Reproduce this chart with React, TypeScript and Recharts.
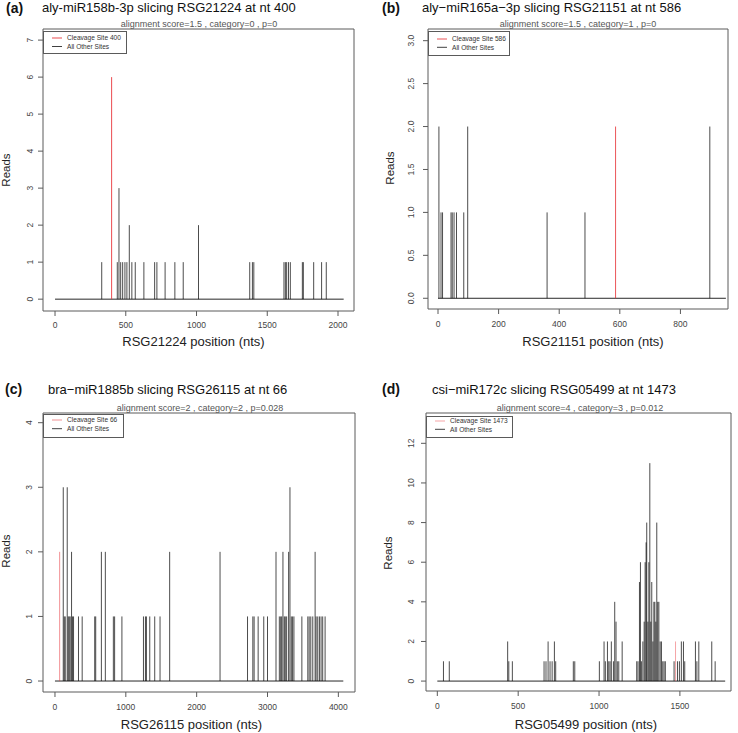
import React from 'react';
import { ComposedChart, XAxis, YAxis, ReferenceLine, ReferenceArea, Scatter } from 'recharts';

const FONT = '"Liberation Sans", Arial, Helvetica, sans-serif';

// ---------- Panel (a) ----------
const aTitle = 'aly-miR158b-3p slicing RSG21224 at nt 400';
const aSubtitle = 'alignment score=1.5 , category=0 , p=0';
const aXLabel = 'RSG21224 position (nts)';
const aLegend = ['Cleavage Site 400', 'All Other Sites'];
const aOtherPositions = [
  330, 440, 452, 464, 478, 494, 508, 525, 543, 567,
  628, 704, 720, 778, 847, 906, 1014, 1376, 1395, 1405,
  1618, 1628, 1637, 1650, 1663, 1748, 1755, 1828, 1884, 1917,
];
const aOtherReads = [
  1, 1, 3, 1, 1, 1, 1, 2, 1, 1,
  1, 1, 1, 1, 1, 1, 2, 1, 1, 1,
  1, 1, 1, 1, 1, 1, 1, 1, 1, 1,
];
const aCleavagePosition = 400;
const aCleavageReads = 6;
const aTranscriptLength = 2040;
const aXTicks = [0, 500, 1000, 1500, 2000];
const aYTicks = [0, 1, 2, 3, 4, 5, 6, 7];

// ---------- Panel (b) ----------
const bTitle = 'aly\u2212miR165a\u22123p slicing RSG21151 at nt 586';
const bSubtitle = 'alignment score=1.5 , category=1 , p=0';
const bXLabel = 'RSG21151 position (nts)';
const bLegend = ['Cleavage Site 586', 'All Other Sites'];
const bOtherPositions = [3, 10, 15, 43, 47, 53, 61, 85, 98, 360, 485, 897];
const bOtherReads = [2, 1, 1, 1, 1, 1, 1, 1, 2, 1, 1, 2];
const bCleavagePosition = 586;
const bCleavageReads = 2;
const bTranscriptLength = 950;
const bXTicks = [0, 200, 400, 600, 800];
const bYTicks = [0, 0.5, 1, 1.5, 2, 2.5, 3];

// ---------- Panel (c) ----------
const cTitle = 'bra\u2212miR1885b slicing RSG26115 at nt 66';
const cSubtitle = 'alignment score=2 , category=2 , p=0.028';
const cXLabel = 'RSG26115 position (nts)';
const cLegend = ['Cleavage Site 66', 'All Other Sites'];
const cOtherPositions = [
  117, 131, 145, 173, 187, 201, 215, 234, 248, 262,
  332, 384, 561, 575, 655, 711, 824, 842, 945, 1249,
  1277, 1291, 1338, 1408, 1483, 1619, 2330, 2718, 2793, 2811,
  2868, 2947, 3000, 3120, 3167, 3186, 3200, 3218, 3237, 3251,
  3270, 3298, 3317, 3336, 3354, 3373, 3485, 3569, 3588, 3611,
  3639, 3672, 3686, 3709, 3733, 3756, 3779, 3813,
];
const cOtherReads = [
  3, 1, 1, 3, 1, 1, 1, 2, 1, 1,
  1, 1, 1, 1, 2, 2, 1, 1, 1, 1,
  1, 1, 1, 1, 1, 2, 2, 1, 1, 1,
  1, 1, 1, 2, 1, 1, 1, 2, 1, 1,
  1, 2, 3, 1, 1, 1, 1, 1, 1, 1,
  1, 2, 1, 1, 1, 1, 1, 1,
];
const cCleavagePosition = 66;
const cCleavageReads = 2;
const cTranscriptLength = 4070;
const cXTicks = [0, 1000, 2000, 3000, 4000];
const cYTicks = [0, 1, 2, 3, 4];

// ---------- Panel (d) ----------
const dTitle = 'csi\u2212miR172c slicing RSG05499 at nt 1473';
const dSubtitle = 'alignment score=4 , category=3 , p=0.012';
const dXLabel = 'RSG05499 position (nts)';
const dLegend = ['Cleavage Site 1473', 'All Other Sites'];
const dOtherPositions = [
  38, 74, 435, 442, 464, 660, 672, 685, 697, 710,
  724, 732, 841, 850, 1002, 1031, 1039, 1052, 1060, 1068,
  1076, 1089, 1097, 1105, 1113, 1122, 1143, 1233, 1241, 1250,
  1256, 1262, 1271, 1279, 1285, 1291, 1295, 1302, 1308, 1314,
  1320, 1326, 1333, 1339, 1345, 1351, 1357, 1363, 1370, 1378,
  1386, 1394, 1402, 1410, 1464, 1485, 1497, 1509, 1522, 1530,
  1596, 1605, 1617, 1697, 1718,
];
const dOtherReads = [
  1, 1, 2, 1, 1, 1, 1, 2, 1, 1,
  2, 1, 1, 1, 1, 2, 1, 2, 1, 1,
  2, 1, 4, 3, 1, 1, 2, 1, 1, 5,
  6, 1, 2, 3, 6, 7, 8, 3, 6, 11,
  3, 5, 2, 4, 4, 3, 8, 4, 4, 2,
  2, 1, 1, 1, 1, 1, 1, 2, 2, 1,
  2, 1, 2, 2, 1,
];
const dCleavagePosition = 1473;
const dCleavageReads = 2;
const dTranscriptLength = 1780;
const dXTicks = [0, 500, 1000, 1500];
const dYTicks = [0, 2, 4, 6, 8, 10, 12];

type Layout = {
  box: [number, number, number, number];
  xDomain: [number, number];
  yDomain: [number, number];
  xTickMargin: number;
  yTickMargin: number;
  yDecimals: number;
  tag: [number, number];
  title: [number, number];
  sub: [number, number];
  reads: [number, number];
  xt: [number, number];
  legend: [number, number, number, number];
  rows: [number, number];
  redOpacity: number;
};

type Panel = {
  tag: string;
  title: string;
  subtitle: string;
  xLabel: string;
  legendLabels: string[];
  positions: number[];
  reads: number[];
  cleavagePos: number;
  cleavageReads: number;
  length: number;
  xTicks: number[];
  yTicks: number[];
  layout: Layout;
};

const panels: Panel[] = [
  {
    tag: '(a)', title: aTitle, subtitle: aSubtitle, xLabel: aXLabel, legendLabels: aLegend,
    positions: aOtherPositions, reads: aOtherReads, cleavagePos: aCleavagePosition,
    cleavageReads: aCleavageReads, length: aTranscriptLength, xTicks: aXTicks, yTicks: aYTicks,
    layout: {
      box: [43, 29, 354, 311], xDomain: [-85, 2113], yDomain: [-0.32, 7.3],
      xTickMargin: 5.5, yTickMargin: 4.5, yDecimals: 0,
      tag: [6, 13], title: [42, 12], sub: [199, 27], reads: [10, 170], xt: [193.5, 346],
      legend: [43, 31, 83, 22], rows: [38, 46.5], redOpacity: 0.9,
    },
  },
  {
    tag: '(b)', title: bTitle, subtitle: bSubtitle, xLabel: bXLabel, legendLabels: bLegend,
    positions: bOtherPositions, reads: bOtherReads, cleavagePos: bCleavagePosition,
    cleavageReads: bCleavageReads, length: bTranscriptLength, xTicks: bXTicks, yTicks: bYTicks,
    layout: {
      box: [428, 29, 728, 309], xDomain: [-33, 957], yDomain: [-0.125, 3.136],
      xTickMargin: 7, yTickMargin: 8.5, yDecimals: 1,
      tag: [382, 13], title: [422, 12], sub: [578, 27], reads: [394, 168], xt: [593, 346],
      legend: [428, 31, 81, 24], rows: [39, 47.3], redOpacity: 0.85,
    },
  },
  {
    tag: '(c)', title: cTitle, subtitle: cSubtitle, xLabel: cXLabel, legendLabels: cLegend,
    positions: cOtherPositions, reads: cOtherReads, cleavagePos: cCleavagePosition,
    cleavageReads: cCleavageReads, length: cTranscriptLength, xTicks: cXTicks, yTicks: cYTicks,
    layout: {
      box: [43, 413, 355, 692], xDomain: [-169, 4235], yDomain: [-0.17, 4.15],
      xTickMargin: 7, yTickMargin: 6, yDecimals: 0,
      tag: [5, 394], title: [48, 394], sub: [200, 411], reads: [10, 551], xt: [191.5, 729],
      legend: [43, 414, 80, 23], rows: [420, 428.7], redOpacity: 0.55,
    },
  },
  {
    tag: '(d)', title: dTitle, subtitle: dSubtitle, xLabel: dXLabel, legendLabels: dLegend,
    positions: dOtherPositions, reads: dOtherReads, cleavagePos: dCleavagePosition,
    cleavageReads: dCleavageReads, length: dTranscriptLength, xTicks: dXTicks, yTicks: dYTicks,
    layout: {
      box: [426, 413, 731, 691], xDomain: [-70, 1816], yDomain: [-0.5, 13.53],
      xTickMargin: 7, yTickMargin: 7, yDecimals: 0,
      tag: [382, 394], title: [432, 394], sub: [580, 411], reads: [392, 553], xt: [586, 729],
      legend: [426, 416, 86, 21], rows: [421, 429.3], redOpacity: 0.45,
    },
  },
];

const RED = '#e8373c';
const TICK_FILL = '#444';
const BOX = '#5a5a5a';

const RotatedTick = (props: any) => {
  const { x, y, payload, decimals } = props;
  const label = Number(payload.value).toFixed(decimals);
  return (
    <text
      x={x}
      y={y}
      transform={`rotate(-90 ${x} ${y})`}
      textAnchor="middle"
      fontSize={8.5}
      fill={TICK_FILL}
      fontFamily={FONT}
    >
      {label}
    </text>
  );
};

const EmptyShape = () => <g />;

function TPlot({ p }: { p: Panel }) {
  const lay = p.layout;
  const [L, T, R, B] = lay.box;
  const padL = 40, padT = 5, padR = 5, padB = 25;
  const W = R - L + padL + padR;
  const H = B - T + padT + padB;
  const data = p.positions.map((pos, i) => ({ x: pos, y: p.reads[i] }));
  return (
    <div style={{ position: 'absolute', left: L - padL, top: T - padT, width: W, height: H }}>
      <ComposedChart
        width={W}
        height={H}
        data={data}
        margin={{ top: padT, right: padR, bottom: padB - 22, left: padL - 30 }}
      >
        <XAxis
          dataKey="x"
          type="number"
          domain={lay.xDomain}
          allowDataOverflow
          ticks={p.xTicks}
          interval={0}
          axisLine={false}
          tickSize={5}
          tickMargin={lay.xTickMargin}
          height={22}
          tick={{ fontSize: 8.5, fill: TICK_FILL, fontFamily: FONT }}
          tickLine={{ stroke: BOX }}
        />
        <YAxis
          dataKey="y"
          type="number"
          domain={lay.yDomain}
          allowDataOverflow
          ticks={p.yTicks}
          interval={0}
          axisLine={false}
          tickSize={5}
          tickMargin={lay.yTickMargin}
          width={30}
          tick={(tp: any) => <RotatedTick {...tp} decimals={lay.yDecimals} />}
          tickLine={{ stroke: BOX }}
        />
        <ReferenceArea
          x1={lay.xDomain[0]}
          x2={lay.xDomain[1]}
          y1={lay.yDomain[0]}
          y2={lay.yDomain[1]}
          fill="none"
          fillOpacity={0}
          stroke={BOX}
          strokeWidth={1}
          ifOverflow="visible"
        />
        <ReferenceLine
          segment={[{ x: 0, y: 0 }, { x: p.length, y: 0 }]}
          stroke="#000"
          strokeOpacity={0.85}
          strokeWidth={1}
        />
        <ReferenceLine
          segment={[{ x: p.cleavagePos, y: 0 }, { x: p.cleavagePos, y: p.cleavageReads }]}
          stroke={RED}
          strokeOpacity={lay.redOpacity}
          strokeWidth={1}
        />
        {data.map((d, i) => (
          <ReferenceLine
            key={i}
            segment={[{ x: d.x, y: 0 }, { x: d.x, y: d.y }]}
            stroke="#000"
            strokeOpacity={0.7}
            strokeWidth={1}
          />
        ))}
        <Scatter dataKey="y" shape={EmptyShape} isAnimationActive={false} legendType="none" />
      </ComposedChart>
    </div>
  );
}

function PanelText({ p }: { p: Panel }) {
  const lay = p.layout;
  const [lx, ly, lw, lh] = lay.legend;
  return (
    <g fontFamily={FONT}>
      <text x={lay.tag[0]} y={lay.tag[1]} fontSize={14} fontWeight="bold" fill="#111">{p.tag}</text>
      <text x={lay.title[0]} y={lay.title[1]} fontSize={13} fill="#111">{p.title}</text>
      <text x={lay.sub[0]} y={lay.sub[1]} fontSize={9} fill="#555" textAnchor="middle">{p.subtitle}</text>
      <text
        transform={`translate(${lay.reads[0]},${lay.reads[1]}) rotate(-90)`}
        fontSize={11.5}
        fill="#222"
        textAnchor="middle"
      >
        Reads
      </text>
      <text x={lay.xt[0]} y={lay.xt[1]} fontSize={13} fill="#222" textAnchor="middle">{p.xLabel}</text>
      <rect x={lx + 0.5} y={ly + 0.5} width={lw} height={lh} fill="none" stroke={BOX} strokeWidth={1} />
      <line x1={lx + 9} x2={lx + 19} y1={lay.rows[0]} y2={lay.rows[0]} stroke={RED} strokeOpacity={lay.redOpacity} strokeWidth={1} />
      <line x1={lx + 9} x2={lx + 19} y1={lay.rows[1]} y2={lay.rows[1]} stroke="#000" strokeOpacity={0.75} strokeWidth={1} />
      <text x={lx + 24} y={lay.rows[0] + 2.3} fontSize={6.6} fill="#333">{p.legendLabels[0]}</text>
      <text x={lx + 24} y={lay.rows[1] + 2.3} fontSize={6.6} fill="#333">{p.legendLabels[1]}</text>
    </g>
  );
}

export default function App() {
  return (
    <div style={{ position: 'absolute', left: 0, top: 0, width: 738, height: 733, background: '#fff', overflow: 'hidden' }}>
      {panels.map((p) => (
        <TPlot key={p.tag} p={p} />
      ))}
      <svg
        width={738}
        height={733}
        style={{ position: 'absolute', left: 0, top: 0, pointerEvents: 'none' }}
      >
        {panels.map((p) => (
          <PanelText key={p.tag} p={p} />
        ))}
      </svg>
    </div>
  );
}
